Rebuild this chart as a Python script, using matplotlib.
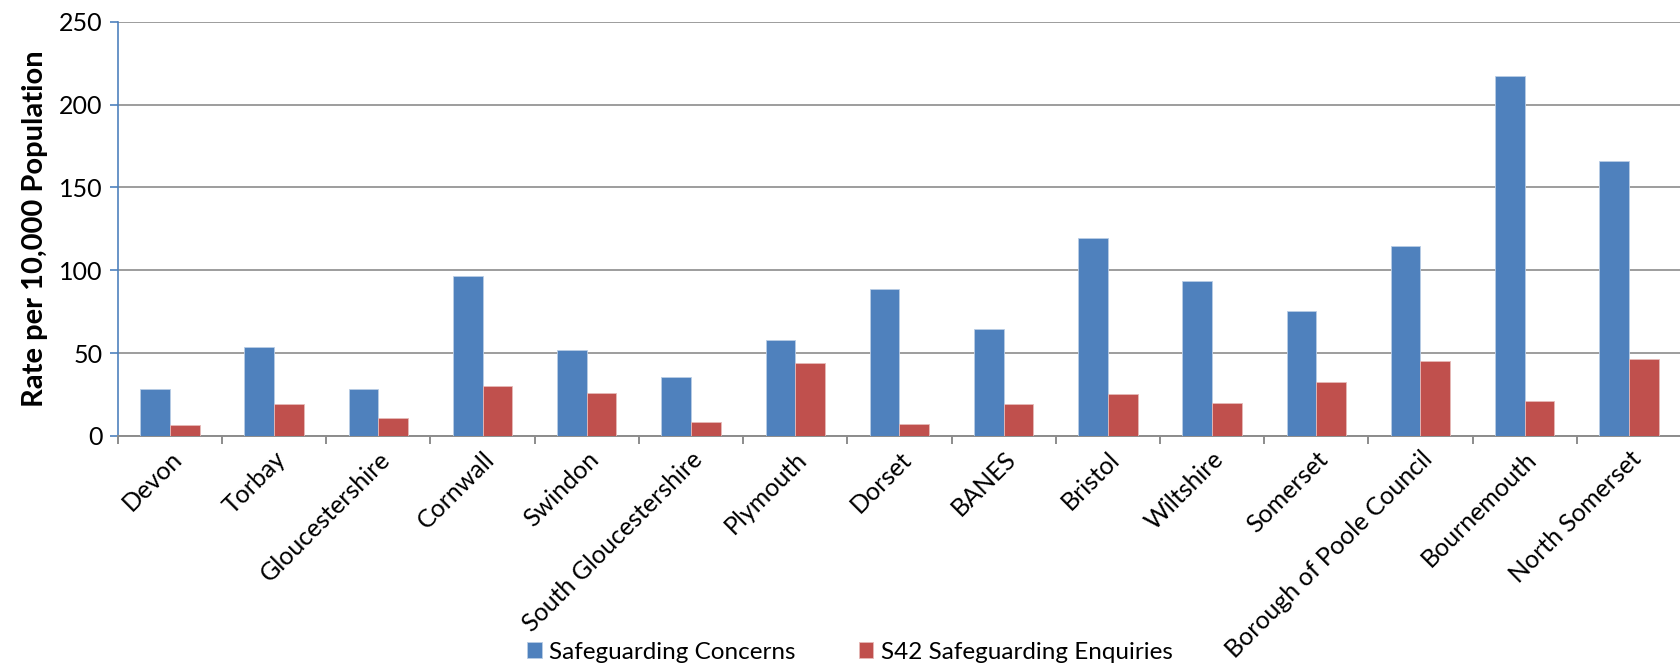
import matplotlib
matplotlib.use("Agg")
import matplotlib.pyplot as plt
import numpy as np

# Local authority rates per 10,000 population
areas = ["Devon", "Torbay", "Gloucestershire", "Cornwall", "Swindon",
         "South Gloucestershire", "Plymouth", "Dorset", "BANES", "Bristol",
         "Wiltshire", "Somerset", "Borough of Poole Council", "Bournemouth",
         "North Somerset"]
concerns = [28.4, 53.9, 28.2, 96.7, 51.9, 35.8, 57.9, 88.5, 64.8, 119.7,
            93.5, 75.4, 114.7, 217.1, 166.0]
enquiries = [6.6, 19.3, 10.9, 30.2, 25.8, 8.2, 44.1, 7.0, 19.3, 25.5,
             19.7, 32.4, 45.3, 21.1, 46.5]
series_names = ["Safeguarding Concerns", "S42 Safeguarding Enquiries"]
y_ticks = [0, 50, 100, 150, 200, 250]

BLUE = "#4F81BD"
RED = "#C0504D"
GRID = "#8C8C8C"

plt.rcParams["font.family"] = ["Lato", "DejaVu Sans"]

fig = plt.figure(figsize=(16.81, 6.64), dpi=100)
ax = fig.add_axes([0.0701, 0.3434, 0.9299, 0.6239])

x = np.arange(len(areas))
w = 0.285
b1 = ax.bar(x - w / 2, concerns, w, color=BLUE, edgecolor="#b9cde5",
            linewidth=0.6, label=series_names[0], zorder=3)
b2 = ax.bar(x + w / 2, enquiries, w, color=RED, edgecolor="#e6b9b8",
            linewidth=0.6, label=series_names[1], zorder=3)

ax.set_ylim(0, 250)
ax.set_xlim(-0.5, 14.358)
ax.set_yticks(y_ticks)
ax.yaxis.grid(True, color=GRID, linewidth=1.2, zorder=0)
ax.set_axisbelow(True)

for s in ["top", "right"]:
    ax.spines[s].set_visible(False)
ax.spines["left"].set_color(BLUE)
ax.spines["left"].set_linewidth(1.2)
ax.spines["bottom"].set_color(GRID)
ax.spines["bottom"].set_linewidth(1.4)

ax.tick_params(axis="y", colors=BLUE, length=6, width=1.2, labelsize=18,
               labelcolor="black", pad=5)

# category boundaries as major ticks, names on minor ticks
ax.set_xticks(np.arange(len(areas) + 1) - 0.5)
ax.set_xticklabels([])
ax.set_xticks(x, minor=True)
ax.set_xticklabels(areas, minor=True, rotation=45, ha="right",
                   rotation_mode="anchor", fontsize=18)
ax.tick_params(axis="x", which="major", colors=GRID, length=6, width=1.4)
ax.tick_params(axis="x", which="minor", length=0, pad=8)

ax.set_ylabel("Rate per 10,000 Population", fontsize=21, fontweight="bold",
              labelpad=8)

fig.legend(handles=[b1, b2], labels=series_names, loc="center",
           bbox_to_anchor=(0.5055, 0.018), ncol=2, frameon=False,
           fontsize=17.5, handlelength=0.6, handleheight=0.6,
           handletextpad=0.3, columnspacing=2.6)

fig.savefig("out.png", dpi=100)
